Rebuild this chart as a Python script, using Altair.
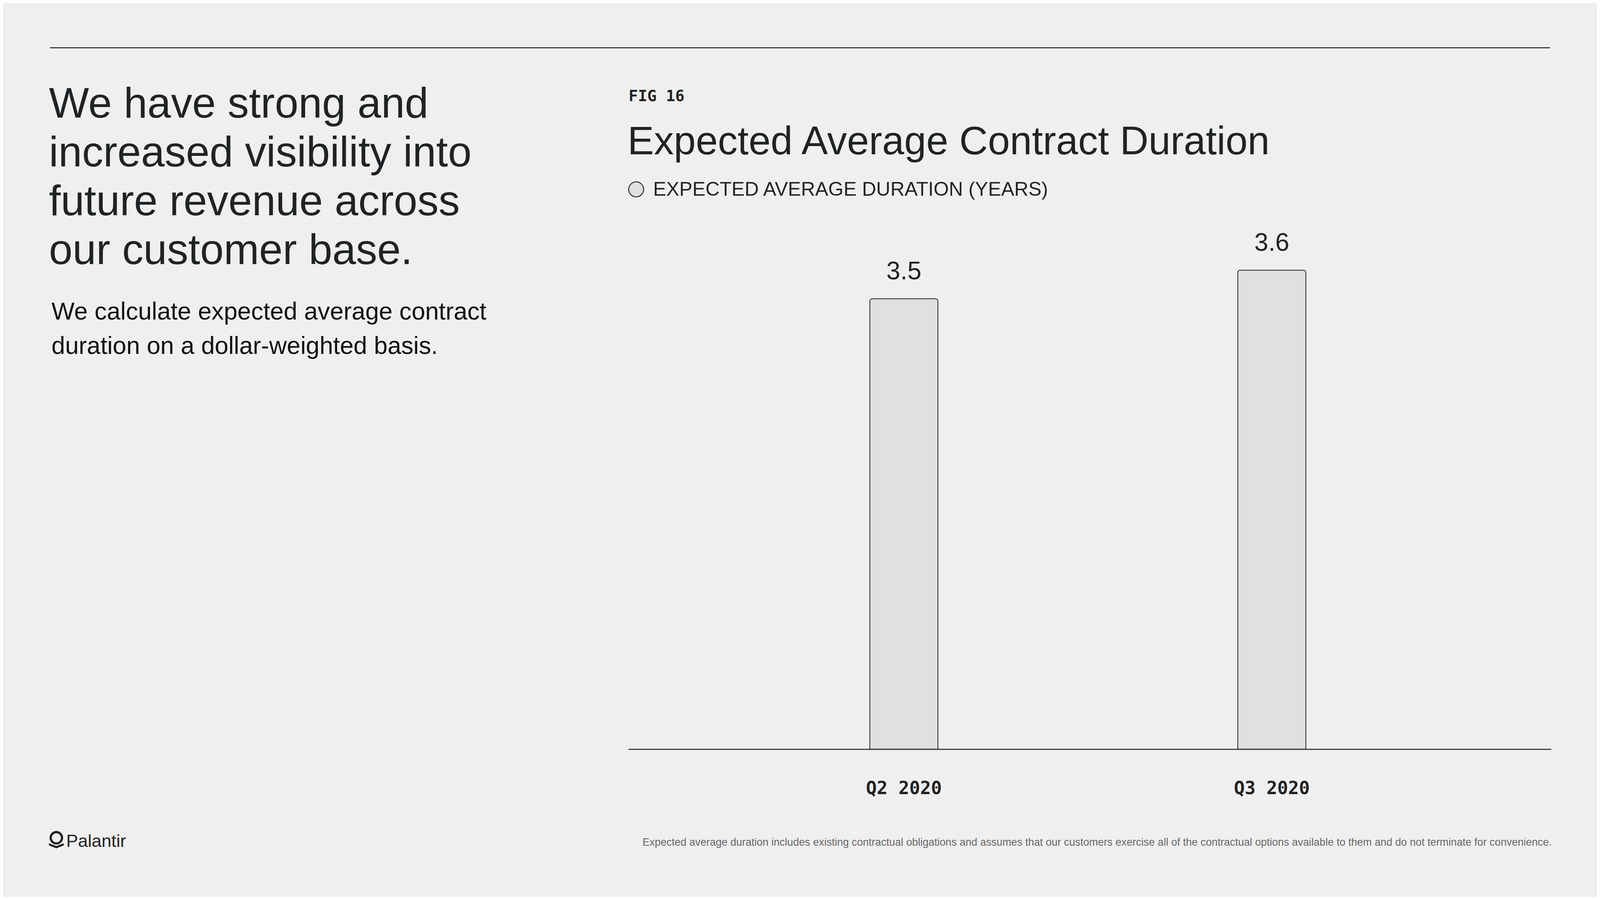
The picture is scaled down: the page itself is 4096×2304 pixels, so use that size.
import altair as alt
import pandas as pd

# ---------------- data ----------------
QUARTERS = ["Q2 2020", "Q3 2020"]
DURATION = [3.5, 3.6]

HEADLINE = ["We have strong and", "increased visibility into",
            "future revenue across", "our customer base."]
SUBTEXT = ["We calculate expected average contract",
           "duration on a dollar-weighted basis."]
FIG_LABEL = "FIG 16"
TITLE = "Expected Average Contract Duration"
LEGEND_LABEL = "EXPECTED AVERAGE DURATION (YEARS)"
FOOTNOTE = ("Expected average duration includes existing contractual obligations and assumes "
            "that our customers exercise all of the contractual options available to them and "
            "do not terminate for convenience.")
BRAND = "Palantir"

# ---------------- layout helpers ----------------
S = 4096 / 4444  # reference -> output scale


def c(r):
    return r * S - 8


PL, PR = c(1745), c(4308)
PT, PB = c(600), c(2080.7)
PLOT_W, PLOT_H = PR - PL, PB - PT
CHART_W, CHART_H = 4080, 2288


def px(r):
    return c(r) - PL


def py(r):
    return c(r) - PT


DARK = "#1f2325"
SANS = "Liberation Sans"
MONO = "DejaVu Sans Mono"
BG = "#efefef"
Y_MIN, Y_MAX = 1.92, 3.79


def one():
    return alt.Chart(pd.DataFrame({"k": [0]}))


df = pd.DataFrame({"quarter": QUARTERS, "duration": DURATION})

x_enc = alt.X(
    "quarter:N",
    sort=QUARTERS,
    scale=alt.Scale(paddingInner=0.815, paddingOuter=0.6615, align=0.4963),
    axis=alt.Axis(
        title=None, labelAngle=0, ticks=False, tickSize=0, grid=False,
        domainColor="#222222", domainWidth=2.6,
        labelFont=MONO, labelFontWeight="bold", labelFontSize=50 * S,
        labelColor=DARK, labelPadding=79, labelLimit=2000,
    ),
)
y_scale = alt.Scale(domain=[Y_MIN, Y_MAX], zero=False, nice=False)

bars = alt.Chart(df).mark_bar(
    fill="#e0e0e0", stroke="#222222", strokeWidth=2,
    cornerRadiusTopLeft=6, cornerRadiusTopRight=6,
).encode(
    x=x_enc,
    y=alt.Y("duration:Q", scale=y_scale, axis=None),
    y2=alt.datum(Y_MIN),
)

bar_labels = alt.Chart(df).mark_text(
    font=SANS, fontSize=70 * S, color=DARK, baseline="alphabetic", dy=-50,
).encode(
    x=alt.X("quarter:N", sort=QUARTERS),
    y=alt.Y("duration:Q", scale=y_scale),
    text=alt.Text("duration:Q", format=".1f"),
)

top_rule = one().mark_rule(color="#222222", strokeWidth=2.4).encode(
    x=alt.value(px(139)), x2=alt.value(px(4305)), y=alt.value(py(132.7))
)

headline = one().mark_text(
    font=SANS, fontSize=118 * S, color=DARK, align="left", baseline="alphabetic",
    lineHeight=135.4 * S,
).encode(x=alt.value(px(136)), y=alt.value(py(327)), text=alt.value(HEADLINE))

subtext = one().mark_text(
    font=SANS, fontSize=68 * S, color="#111111", align="left", baseline="alphabetic",
    lineHeight=95 * S,
).encode(x=alt.value(px(143)), y=alt.value(py(888)), text=alt.value(SUBTEXT))

fig = one().mark_text(
    font=MONO, fontWeight="bold", fontSize=43 * S, color=DARK, align="left",
    baseline="alphabetic",
).encode(x=alt.value(px(1746)), y=alt.value(py(281)), text=alt.value(FIG_LABEL))

title = one().mark_text(
    font=SANS, fontSize=110 * S, color=DARK, align="left", baseline="alphabetic",
).encode(x=alt.value(px(1743)), y=alt.value(py(428.3)), text=alt.value(TITLE))

legend_dot = one().mark_point(
    shape="circle", filled=True, fill="#e0e0e0", stroke="#222222",
    strokeWidth=2.3, opacity=1, size=(41.5 * S) ** 2,
).encode(x=alt.value(px(1767)), y=alt.value(py(526)))

legend_text = one().mark_text(
    font=SANS, fontSize=54.5 * S, color=DARK, align="left", baseline="alphabetic",
).encode(x=alt.value(px(1814)), y=alt.value(py(544)), text=alt.value(LEGEND_LABEL))

footnote = one().mark_text(
    font=SANS, fontSize=29.3 * S, color="#666666", align="right", baseline="alphabetic",
).encode(x=alt.value(px(4310)), y=alt.value(py(2349)), text=alt.value(FOOTNOTE))

logo_ring = one().mark_point(
    shape="circle", filled=False, stroke=DARK, strokeWidth=6.3 * S, opacity=1,
    size=(31.5 * S) ** 2,
).encode(x=alt.value(px(156.5)), y=alt.value(py(2327)))

logo_chevron = one().mark_point(
    shape="M -1 -0.34 L 0 0.05 L 1 -0.34 L 1 -0.04 L 0 0.36 L -1 -0.04 Z",
    filled=True, fill=DARK, strokeWidth=0, opacity=1, size=(41 * S) ** 2,
).encode(x=alt.value(px(156.5)), y=alt.value(py(2349)))

brand = one().mark_text(
    font=SANS, fontSize=49 * S, color=DARK, align="left", baseline="alphabetic",
).encode(x=alt.value(px(184)), y=alt.value(py(2352)), text=alt.value(BRAND))

chart = alt.layer(
    bars, bar_labels, top_rule, headline, subtext, fig, title,
    legend_dot, legend_text, footnote, logo_ring, logo_chevron, brand,
).properties(
    width=PLOT_W, height=PLOT_H,
    autosize=alt.AutoSizeParams(type="none"),
    padding={"left": PL, "top": PT, "right": CHART_W - PL - PLOT_W,
             "bottom": CHART_H - PT - PLOT_H},
    background=BG,
).configure_view(stroke=None)

chart.save("out.html", embed_options={"renderer": "svg", "actions": False})
